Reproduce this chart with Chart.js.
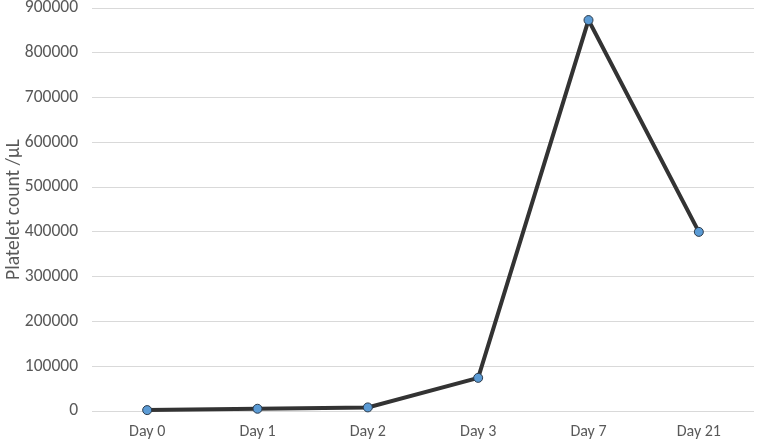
<!DOCTYPE html>
<html>
<head>
<meta charset="utf-8">
<script src="https://cdn.jsdelivr.net/npm/chart.js@4.4.1/dist/chart.umd.min.js"></script>
<style>
html,body{margin:0;padding:0;background:#fff;}
#wrap{width:757px;height:444px;}
</style>
</head>
<body>
<div id="wrap"><canvas id="c" width="757" height="444"></canvas></div>
<script>
const categories = ["Day 0", "Day 1", "Day 2", "Day 3", "Day 7", "Day 21"];
const plateletCounts = [2000, 5000, 8000, 74000, 873000, 400000];
const yTitle = "Platelet count /µL";

const fontFamily = "Carlito, Calibri, 'Open Sans', 'Liberation Sans', sans-serif";
new Chart(document.getElementById('c'), {
  type: 'line',
  data: {
    labels: categories,
    datasets: [{
      data: plateletCounts,
      borderColor: '#333333',
      borderWidth: 4,
      pointBackgroundColor: '#5B9BD5',
      pointBorderColor: '#2b3a4a',
      pointBorderWidth: 1,
      pointRadius: 4.5,
      tension: 0,
      fill: false,
      clip: false
    }]
  },
  options: {
    responsive: false,
    animation: false,
    devicePixelRatio: 1,
    layout: { autoPadding: false, padding: { top: 0, right: 3, bottom: 0, left: 2 } },
    plugins: { legend: { display: false }, tooltip: { enabled: false } },
    scales: {
      x: {
        offset: true,
        afterFit: (s) => { s.height = 33; s.paddingLeft = 0; s.paddingRight = 0; },
        grid: { display: false, drawTicks: false, offset: true },
        border: { display: false },
        ticks: { color: '#595959', font: { family: fontFamily, size: 16 }, padding: 11 }
      },
      y: {
        min: 0, max: 900000,
        afterFit: (s) => { s.width = 90; s.paddingTop = 8; s.paddingBottom = 0; },
        ticks: { stepSize: 100000, color: '#595959', font: { family: fontFamily, size: 17.5 }, padding: 14,
                 callback: (v) => String(v) },
        grid: { color: '#d9d9d9', lineWidth: 1, drawTicks: false },
        border: { display: false },
        title: { display: true, text: yTitle, color: '#595959', font: { family: fontFamily, size: 19.5 }, padding: { top: 0, bottom: 2 } }
      }
    }
  }
});
</script>
</body>
</html>
